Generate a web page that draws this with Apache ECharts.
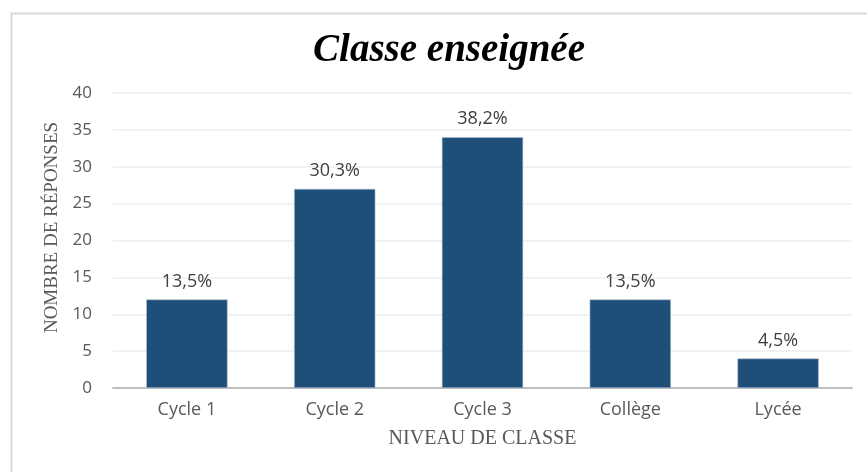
<!DOCTYPE html>
<html>
<head>
<meta charset="utf-8">
<script src="https://cdn.jsdelivr.net/npm/echarts@6/dist/echarts.min.js"></script>
<style>html,body{margin:0;padding:0;background:#fff}#c{width:867px;height:472px}</style>
</head>
<body>
<div id="c"></div>
<script>
const categories = ['Cycle 1', 'Cycle 2', 'Cycle 3', 'Collège', 'Lycée'];
const responses = [12, 27, 34, 12, 4];
const percentLabels = ['13,5%', '30,3%', '38,2%', '13,5%', '4,5%'];
const yTicks = [0, 5, 10, 15, 20, 25, 30, 35, 40];

const chart = echarts.init(document.getElementById('c'), null, {renderer: 'canvas'});
chart.setOption({
  animation: false,
  backgroundColor: '#fff',
  graphic: [{
    type: 'rect', left: 9, top: 11, silent: true,
    shape: {width: 900, height: 500},
    style: {fill: 'none', stroke: '#d9d9d9', lineWidth: 2}
  }],
  title: {
    text: 'Classe enseignée',
    left: 444, top: 26, textAlign: 'center',
    textStyle: {fontFamily: 'Liberation Serif', fontStyle: 'italic', fontWeight: 'bold', fontSize: 39, color: '#000'}
  },
  grid: {left: 113, right: 15, top: 93, bottom: 84},
  xAxis: {
    type: 'category', data: categories,
    name: 'NIVEAU DE CLASSE', nameLocation: 'middle', nameGap: 41,
    nameTextStyle: {fontFamily: 'Liberation Serif', fontSize: 20, color: '#595959'},
    axisLine: {lineStyle: {color: '#bfbfbf', width: 2}},
    axisTick: {show: false},
    axisLabel: {color: '#595959', fontFamily: 'Open Sans', fontSize: 18, margin: 13}
  },
  yAxis: {
    type: 'value', min: yTicks[0], max: yTicks[yTicks.length - 1], interval: yTicks[1] - yTicks[0],
    name: 'NOMBRE DE RÉPONSES', nameLocation: 'middle', nameGap: 50,
    nameTextStyle: {fontFamily: 'Liberation Serif', fontSize: 19, color: '#595959', padding: [0, 0, 0, 26]},
    axisLine: {show: false}, axisTick: {show: false},
    splitLine: {lineStyle: {color: '#eeeeee', width: 1.5}},
    axisLabel: {color: '#595959', fontFamily: 'Open Sans', fontSize: 17, margin: 21}
  },
  series: [{
    type: 'bar', data: responses, barWidth: '55%',
    itemStyle: {color: '#1f4e79', borderColor: '#a9bdd3', borderWidth: 0.6},
    label: {
      show: true, position: 'top', distance: 9,
      formatter: p => percentLabels[p.dataIndex],
      color: '#404040', fontFamily: 'Open Sans', fontSize: 18
    }
  }]
});
</script>
</body>
</html>
